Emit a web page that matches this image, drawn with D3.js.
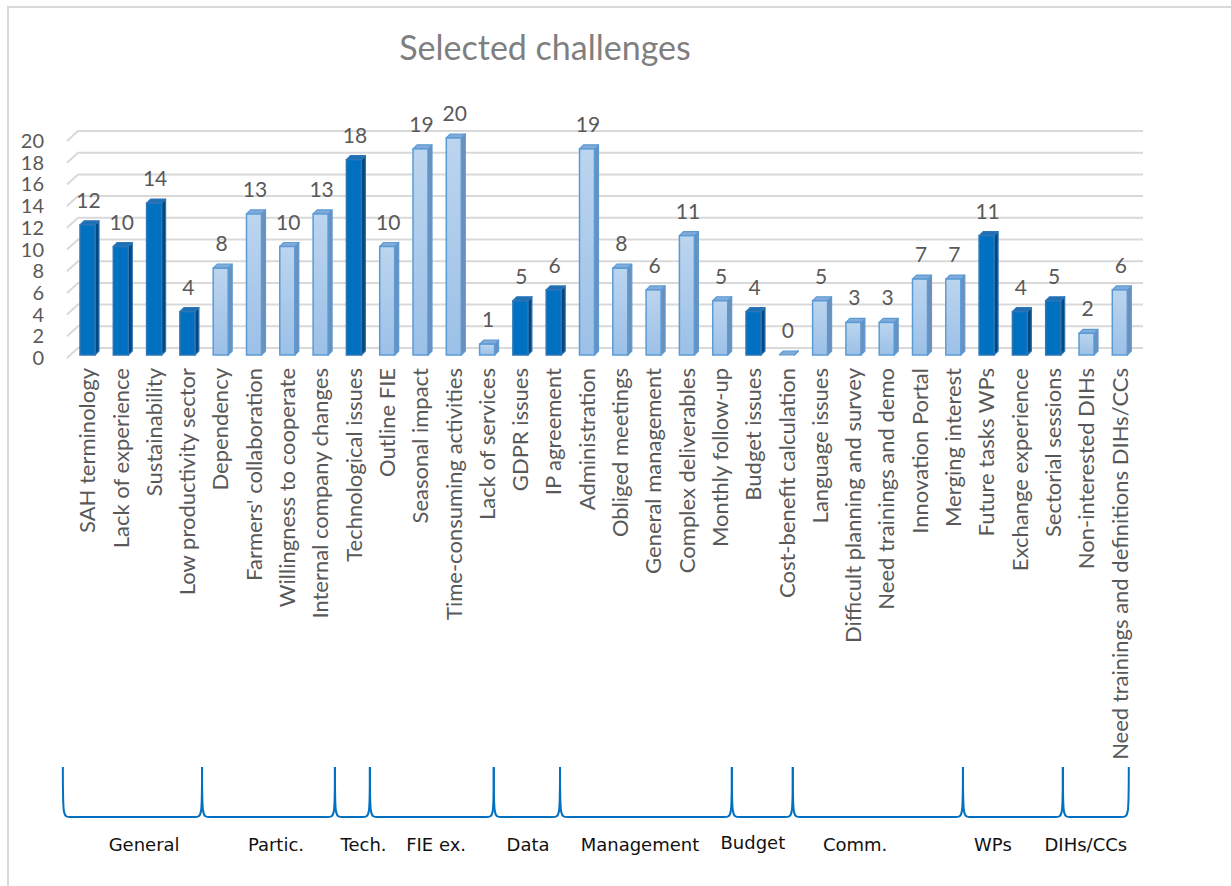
<!DOCTYPE html>
<html>
<head>
<meta charset="utf-8">
<script src="https://cdn.jsdelivr.net/npm/d3@7"></script>
<style>
  body { margin: 0; background: #fff; }
  svg { display: block; }
</style>
</head>
<body>
<div id="main"></div>
<script>
// challenges as listed along the x axis
var categories = [
  "SAH terminology", "Lack of experience", "Sustainability", "Low productivity sector",
  "Dependency", "Farmers' collaboration", "Willingness to cooperate", "Internal company changes",
  "Technological issues", "Outline FIE", "Seasonal impact", "Time-consuming activities",
  "Lack of services", "GDPR issues", "IP agreement", "Administration", "Obliged meetings",
  "General management", "Complex deliverables", "Monthly follow-up", "Budget issues",
  "Cost-benefit calculation", "Language issues", "Difficult planning and survey",
  "Need trainings and demo", "Innovation Portal", "Merging interest", "Future tasks WPs",
  "Exchange experience", "Sectorial sessions", "Non-interested DIHs",
  "Need trainings and definitions DIHs/CCs"
];
var values = [12, 10, 14, 4, 8, 13, 10, 13, 18, 10, 19, 20, 1, 5, 6, 19, 8, 6, 11, 5, 4, 0,
  5, 3, 3, 7, 7, 11, 4, 5, 2, 6];
// bars drawn in the darker blue
var darkBars = [
  "SAH terminology", "Lack of experience", "Sustainability", "Low productivity sector",
  "Technological issues", "GDPR issues", "IP agreement", "Budget issues",
  "Future tasks WPs", "Exchange experience", "Sectorial sessions"
];
var yTicks = [0, 2, 4, 6, 8, 10, 12, 14, 16, 18, 20];

// brace groups under the chart (edges and label anchors in bar-index units)
var groupNames = ["General", "Partic.", "Tech.", "FIE ex.", "Data", "Management", "Budget",
  "Comm.", "WPs", "DIHs/CCs"];
var groupEdges = [-0.74, 3.44, 7.43, 8.48, 12.2, 14.19, 19.35, 21.18, 26.29, 29.29, 31.27];
var groupLabelAt = [1.70, 5.66, 8.29, 10.47, 13.23, 16.59, 19.98, 23.05, 27.19, 29.98];

var width = 1231;
var height = 886;

var svg = d3.select("#main").append("svg")
  .attr("width", width)
  .attr("height", height);

var defs = svg.append("defs");
var grad = defs.append("linearGradient")
  .attr("id", "lightGrad")
  .attr("x1", 0).attr("y1", 0).attr("x2", 0).attr("y2", 1);
grad.append("stop").attr("offset", "0%").attr("stop-color", "#bcd5ef");
grad.append("stop").attr("offset", "100%").attr("stop-color", "#9cc0e7");

// outer chart border (only top/left visible in the frame)
svg.append("rect")
  .attr("x", 8).attr("y", 7)
  .attr("width", 1300).attr("height", 1000)
  .attr("fill", "none")
  .attr("stroke", "#d9d9d9")
  .attr("stroke-width", 2);

svg.append("text")
  .attr("x", 545)
  .attr("y", 60)
  .attr("text-anchor", "middle")
  .style("font-family", "Lato, 'Noto Sans', sans-serif")
  .style("font-size", "34px")
  .style("fill", "#7f7f7f")
  .text("Selected challenges");

var x = d3.scalePoint()
  .domain(categories)
  .range([87.5, 1119.8]);

var xi = d3.scaleLinear()
  .domain([0, categories.length - 1])
  .range(x.range());

var y = d3.scaleLinear()
  .domain([0, 20])
  .range([355, 138]);

var barW = 15;
var depth = 4;

// gridlines, drawn with the little perspective step at the left
svg.append("g").selectAll("path")
  .data(yTicks)
  .enter().append("path")
  .attr("d", function(t) {
    return "M67," + (y(t) + 3) + "L78," + (y(t) - 7) + "L1143," + (y(t) - 7);
  })
  .attr("fill", "none")
  .attr("stroke", "#d9d9d9")
  .attr("stroke-width", 2);

svg.append("g").selectAll("text")
  .data(yTicks)
  .enter().append("text")
  .attr("x", 44)
  .attr("y", function(t) { return y(t) + 10; })
  .attr("text-anchor", "end")
  .style("font-family", "Lato, 'Noto Sans', sans-serif")
  .style("font-size", "20px")
  .style("fill", "#595959")
  .text(function(t) { return t; });

// 3D bars
var bars = svg.append("g").selectAll("g")
  .data(categories)
  .enter().append("g");

function isDark(c) {
  return darkBars.indexOf(c) >= 0;
}

bars.each(function(c, i) {
  var g = d3.select(this);
  var x0 = x(c) - barW / 2;
  var x1 = x0 + barW;
  var yt = y(values[i]);
  var yb = y(0);
  var dark = isDark(c);
  var edge = dark ? "#2e75b6" : "#5b9bd5";

  // side face
  g.append("path")
    .attr("d", "M" + x1 + "," + yb + "L" + x1 + "," + yt + "L" + (x1 + depth) + "," + (yt - depth) +
      "L" + (x1 + depth) + "," + (yb - depth) + "Z")
    .attr("fill", dark ? "#00467f" : "#6d8fba")
    .attr("stroke", edge)
    .attr("stroke-width", 1.2)
    .attr("stroke-linejoin", "round");

  // top face
  g.append("path")
    .attr("d", "M" + x0 + "," + yt + "L" + x1 + "," + yt + "L" + (x1 + depth) + "," + (yt - depth) +
      "L" + (x0 + depth) + "," + (yt - depth) + "Z")
    .attr("fill", dark ? "#1f6fb5" : "#82abd9")
    .attr("stroke", edge)
    .attr("stroke-width", 1.2)
    .attr("stroke-linejoin", "round");

  // front face
  if (yb - yt > 0) {
    g.append("rect")
      .attr("x", x0)
      .attr("y", yt)
      .attr("width", barW)
      .attr("height", yb - yt)
      .attr("fill", dark ? "#0070c0" : "url(#lightGrad)")
      .attr("stroke", edge)
      .attr("stroke-width", 1.5);
  }
});

// value labels
svg.append("g").selectAll("text")
  .data(categories)
  .enter().append("text")
  .attr("x", function(c) { return x(c) + 1; })
  .attr("y", function(c, i) { return y(values[i]) - 17; })
  .attr("text-anchor", "middle")
  .style("font-family", "Lato, 'Noto Sans', sans-serif")
  .style("font-size", "21px")
  .style("fill", "#595959")
  .text(function(c, i) { return values[i]; });

// category labels, rotated
svg.append("g").selectAll("text")
  .data(categories)
  .enter().append("text")
  .attr("transform", function(c) { return "translate(" + x(c) + ",368) rotate(-90)"; })
  .attr("dy", "0.35em")
  .attr("text-anchor", "end")
  .style("font-family", "Lato, 'Noto Sans', sans-serif")
  .style("font-size", "22px")
  .style("fill", "#595959")
  .text(function(c) { return c; });

// braces grouping the challenges
var braceTop = 767;
var braceBottom = 817;
var braces = svg.append("g");
for (var k = 0; k < groupNames.length; k++) {
  var a = xi(groupEdges[k]);
  var b = xi(groupEdges[k + 1]);
  braces.append("path")
    .attr("d", "M" + a + "," + braceTop +
      "C" + a + "," + braceBottom + " " + a + "," + braceBottom + " " + (a + 8) + "," + braceBottom +
      "L" + (b - 8) + "," + braceBottom +
      "C" + b + "," + braceBottom + " " + b + "," + braceBottom + " " + b + "," + braceTop)
    .attr("fill", "none")
    .attr("stroke", "#0070c0")
    .attr("stroke-width", 2);
}

braces.selectAll("text")
  .data(groupNames)
  .enter().append("text")
  .attr("x", function(d, i) { return xi(groupLabelAt[i]); })
  .attr("y", function(d) { return d === "Budget" ? 849 : 851; })
  .attr("text-anchor", "middle")
  .style("font-family", "'DejaVu Sans', sans-serif")
  .style("font-size", "18px")
  .style("fill", "#111")
  .text(function(d) { return d; });
</script>
</body>
</html>
